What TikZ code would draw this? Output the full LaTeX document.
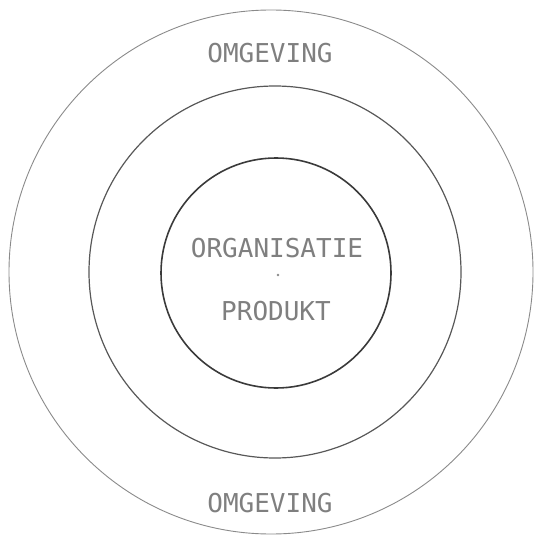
\documentclass[tikz,border=0pt]{standalone}
\usepackage{fontspec}
\usepackage{tikz}
\usetikzlibrary{positioning}
\newfontfamily\plotfont{DejaVu Sans Mono}
\definecolor{inkt}{HTML}{3A3A3A}
\definecolor{inktLicht}{HTML}{8A8A8A}

\begin{document}
\begin{tikzpicture}[x=1pt, y=-1pt,
        lbl/.style={font=\plotfont\fontsize{26}{30}\selectfont, text=inkt!65, inner sep=0pt, anchor=center},
        ring/.style={circle, inner sep=0pt}]
        \useasboundingbox (0,0) rectangle (533,540);
        % ringen
        \node[ring, draw=inktLicht, line width=0.9pt, minimum size=524pt] (omg) at (271,272) {};
        \node[ring, draw=inkt!85, line width=1.2pt, minimum size=372pt] (mid) at (275,272) {};
        \node[ring, draw=inkt, line width=1.6pt, minimum size=230pt] (org) at (276,273) {};
        % teksten
        \node[lbl] (omgboven) at (270,53) {OMGEVING};
        \node[lbl] (omgonder) at (270,503) {OMGEVING};
        \node[lbl] (organisatie) at (277,248) {ORGANISATIE};
        \node[lbl] (produkt) at (276,311) {PRODUKT};
        \fill[inktLicht] (278,275) circle (1.3pt);
    \end{tikzpicture}
\end{document}
